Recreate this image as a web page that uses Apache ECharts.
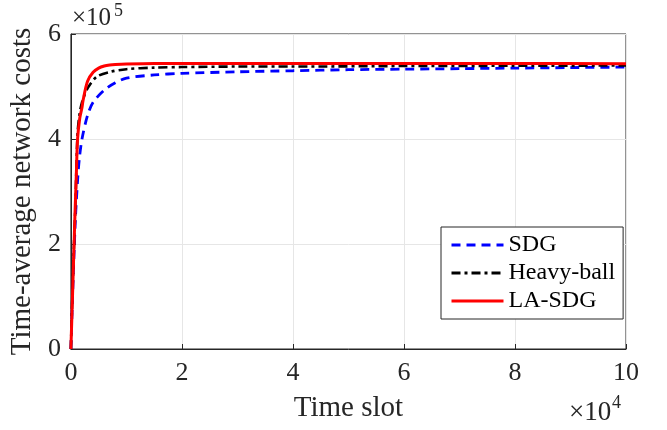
<!DOCTYPE html>
<html><head><meta charset="utf-8">
<script src="https://cdn.jsdelivr.net/npm/echarts@6/dist/echarts.min.js"></script>
<style>html,body{margin:0;padding:0;background:#fff}#c{width:667px;height:430px}</style>
</head><body><div id="c"></div>
<script>
// Time slots and time-average network costs
var sdgT   = [0, 300, 800, 1200, 1500, 2000, 3000, 4000, 6000, 8000, 10000, 15000, 20000, 30000, 40000, 50000, 60000, 70000, 80000, 90000, 100000];
var sdgV   = [0, 100000, 245000, 320000, 360000, 400000, 445000, 470000, 493000, 507000, 516000, 522000, 525000, 528000, 530000, 532000, 533000, 534000, 535000, 536000, 537000];
var hbT    = [0, 200, 500, 800, 1200, 1600, 2000, 2500, 3200, 4700, 7100, 10000, 15000, 20000, 30000, 40000, 60000, 80000, 100000];
var hbV    = [0, 80000, 180000, 270000, 410000, 450000, 470000, 485000, 500000, 519000, 528000, 533000, 536000, 537000, 538000, 538000, 539000, 539500, 540000];
var laT    = [0, 200, 400, 700, 1000, 1200, 1600, 2000, 2200, 3000, 4000, 5000, 6000, 7000, 8000, 10000, 15000, 20000, 40000, 60000, 80000, 100000];
var laV    = [0, 70000, 140000, 245000, 340000, 400000, 440000, 460000, 474000, 510000, 527000, 535000, 539000, 541000, 542000, 543000, 544000, 544000, 544000, 544000, 544000, 543500];
var seriesNames = ['SDG', 'Heavy-ball', 'LA-SDG'];

function pairs(t, v){ return t.map(function(x,i){ return [x, v[i]]; }); }
var font = 'Liberation Serif';
var ink = '#262626';
var chart = echarts.init(document.getElementById('c'), null, {renderer:'canvas'});
chart.setOption({
  animation:false,
  backgroundColor:'#fff',
  grid:{left:70, right:41, top:34, bottom:81, show:true, borderColor:ink, borderWidth:1},
  xAxis:{type:'value', min:0, max:100000, interval:20000,
    axisLine:{lineStyle:{color:ink}}, axisTick:{inside:true, length:5, lineStyle:{color:ink}},
    splitLine:{show:true, lineStyle:{color:'#e6e6e6'}},
    axisLabel:{formatter:function(v){return String(v/10000);}, color:ink, fontFamily:font, fontSize:26, margin:11},
    name:'Time slot', nameLocation:'middle', nameGap:45, nameTextStyle:{color:ink, fontFamily:font, fontSize:29}},
  yAxis:{type:'value', min:0, max:600000, interval:200000,
    axisLine:{show:true, lineStyle:{color:ink}}, axisTick:{show:true, inside:true, length:5, lineStyle:{color:ink}},
    splitLine:{show:true, lineStyle:{color:'#e6e6e6'}},
    axisLabel:{formatter:function(v){return String(v/100000);}, color:ink, fontFamily:font, fontSize:26, margin:10},
    name:'Time-average network costs', nameLocation:'middle', nameGap:31, nameTextStyle:{color:ink, fontFamily:font, fontSize:29}},
  legend:{show:true, left:441, top:227, orient:'vertical', itemWidth:52, itemHeight:14, itemGap:4,
    padding:[6,8,6,9], borderColor:ink, borderWidth:1, backgroundColor:'#fff',
    itemStyle:{opacity:0}, lineStyle:{width:3},
    textStyle:{fontFamily:font, fontSize:24, color:'#000'},
    data:seriesNames},
  series:[
    {name:seriesNames[0], type:'line', data:pairs(sdgT, sdgV), showSymbol:false, symbol:'none', smooth:0.3,
     lineStyle:{color:'#0000ff', width:2.8, type:[9,6]}, itemStyle:{color:'#0000ff'}, z:2},
    {name:seriesNames[1], type:'line', data:pairs(hbT, hbV), showSymbol:false, symbol:'none', smooth:0.3,
     lineStyle:{color:'#000000', width:2.6, type:[9,4,3,4]}, itemStyle:{color:'#000'}, z:3},
    {name:seriesNames[2], type:'line', data:pairs(laT, laV), showSymbol:false, symbol:'none', smooth:0.3,
     lineStyle:{color:'#ff0000', width:3}, itemStyle:{color:'#ff0000'}, z:4}
  ],
  graphic:[
    {type:'text', left:72, top:6, style:{text:'×10', fontFamily:font, fontSize:25, fill:ink}},
    {type:'text', left:114, top:2, style:{text:'5', fontFamily:font, fontSize:18, fill:ink}},
    {type:'text', left:569, top:399, style:{text:'×10', fontFamily:font, fontSize:27, fill:ink}},
    {type:'text', left:612, top:394, style:{text:'4', fontFamily:font, fontSize:18, fill:ink}}
  ]
});
</script></body></html>
